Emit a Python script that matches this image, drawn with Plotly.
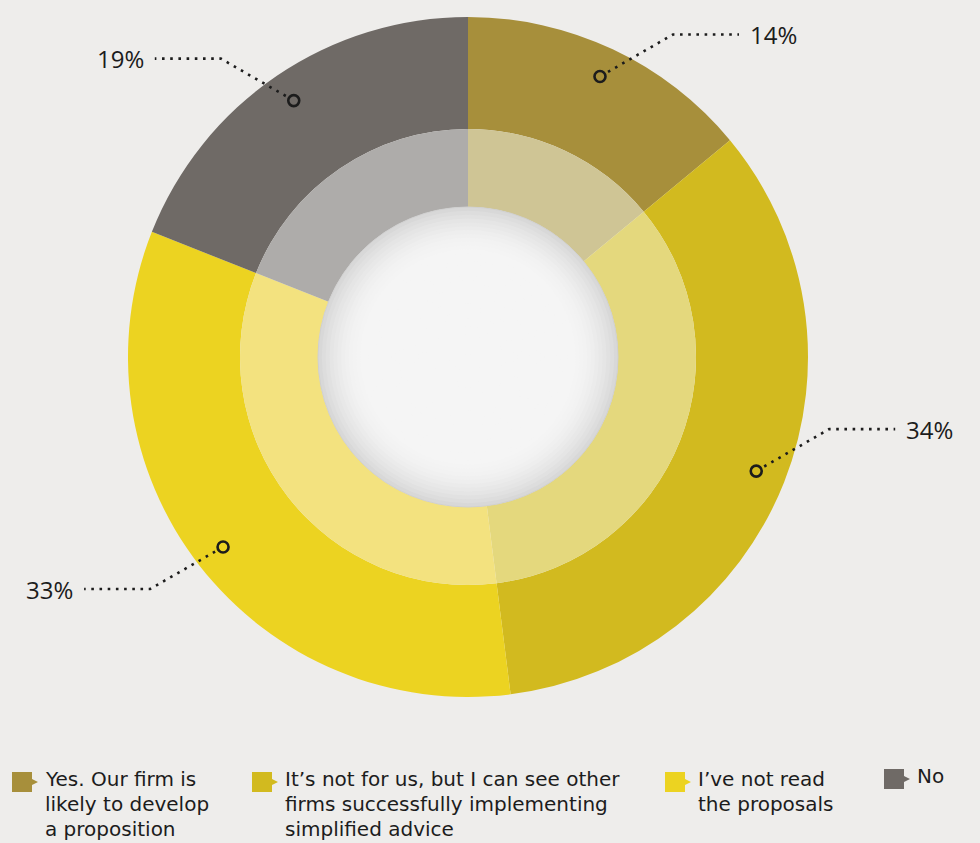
import numpy as np
import plotly.graph_objects as go

# ---- data -------------------------------------------------------------
categories = [
    "Yes. Our firm is likely to develop a proposition",
    "It’s not for us, but I can see other firms successfully implementing simplified advice",
    "I’ve not read the proposals",
    "No",
]
legend_lines = [
    ["Yes. Our firm is", "likely to develop", "a proposition"],
    ["It’s not for us, but I can see other", "firms successfully implementing", "simplified advice"],
    ["I’ve not read", "the proposals"],
    ["No"],
]
shares = [14, 34, 33, 19]
pct_labels = [f"{v}%" for v in shares]

# ---- styling ----------------------------------------------------------
outer_colors = ["#a78f3b", "#d2ba1f", "#ecd321", "#6f6a66"]
inner_colors = ["#cfc595", "#e4d87d", "#f3e27f", "#aeacaa"]
bg = "#eeedeb"
ink = "#1c1c1c"
label_font = "Open Sans, Lato, sans-serif"
legend_font = "DejaVu Sans, Open Sans, sans-serif"

W, H = 980, 843
CX, CY = 468, 357            # pie centre (px)
R_OUT, R_MID, R_CORE = 340, 228, 150
R_PIN = 310                  # radius of the leader pins
leader_vdir = [-1, -1, 1, -1]   # leader elbow goes up (-1) or down (+1)
legend_x = [12, 252, 665, 884]
legend_top = 772
legend_first_line = 779
legend_line_gap = 25


def domain(r):
    return dict(x=[(CX - r) / W, (CX + r) / W],
                y=[(H - CY - r) / H, (H - CY + r) / H])


fig = go.Figure()

# outer ring
fig.add_trace(go.Pie(
    values=shares, labels=categories, sort=False, direction="clockwise",
    rotation=0, hole=R_MID / R_OUT, domain=domain(R_OUT),
    marker=dict(colors=outer_colors, line=dict(width=0)),
    textinfo="none", hoverinfo="skip", showlegend=False,
))
# inner lighter ring
fig.add_trace(go.Pie(
    values=shares, labels=categories, sort=False, direction="clockwise",
    rotation=0, hole=R_CORE / R_MID, domain=domain(R_MID),
    marker=dict(colors=inner_colors, line=dict(width=0)),
    textinfo="none", hoverinfo="skip", showlegend=False,
))

shapes = []
# soft shaded centre disc built from concentric circles
n = 40
for i in range(n):
    t = i / (n - 1)                      # 0 at rim, 1 at centre
    r = R_CORE * (1 - t)
    if r <= 0.5:
        break
    k = min(1.0, t / 0.3)
    c = int(round(216 + (245 - 216) * (1 - (1 - k) ** 2)))
    col = f"rgb({c},{c},{c})"
    shapes.append(dict(type="circle", xref="x", yref="y", layer="above",
                       x0=CX - r, x1=CX + r, y0=CY - r, y1=CY + r,
                       fillcolor=col, line=dict(width=0)))
shapes.append(dict(type="circle", xref="x", yref="y", layer="above",
                   x0=CX - R_CORE, x1=CX + R_CORE, y0=CY - R_CORE, y1=CY + R_CORE,
                   fillcolor="rgba(0,0,0,0)", line=dict(color="#d0d0d0", width=1)))

annotations = []
# leader lines and value labels, positioned from the slice mid-angles
cum = np.cumsum([0] + shares)
total = cum[-1]
for i, v in enumerate(shares):
    mid = (cum[i] + cum[i + 1]) / 2 / total * 2 * np.pi
    hs = 1 if np.sin(mid) >= 0 else -1
    vs = leader_vdir[i]
    px = CX + R_PIN * np.sin(mid)
    py = CY - R_PIN * np.cos(mid)
    ex, ey = px + hs * 73, py + vs * 42
    fx = ex + hs * 66
    sx, sy = px + hs * 8, py + vs * 4.6
    shapes.append(dict(type="path", xref="x", yref="y", layer="above",
                       path=f"M {sx:.1f},{sy:.1f} L {ex:.1f},{ey:.1f} L {fx:.1f},{ey:.1f}",
                       line=dict(color=ink, width=2.6, dash="2.6px,5.6px")))
    shapes.append(dict(type="circle", xref="x", yref="y", layer="above",
                       x0=px - 5.5, x1=px + 5.5, y0=py - 5.5, y1=py + 5.5,
                       fillcolor="rgba(0,0,0,0)", line=dict(color=ink, width=2.6)))
    annotations.append(dict(
        x=fx + hs * 9, y=ey, xref="x", yref="y", text=pct_labels[i],
        showarrow=False, xanchor="left" if hs > 0 else "right", yanchor="middle",
        font=dict(family=label_font, size=24, color=ink)))

# legend: flag-shaped swatches with wrapped captions (one annotation per line)
for i, lines in enumerate(legend_lines):
    x0 = legend_x[i]
    shift = 0 if len(lines) > 1 else -3
    y0 = legend_top + shift
    path = (f"M {x0},{y0} L {x0 + 20},{y0} L {x0 + 20},{y0 + 7} "
            f"L {x0 + 26},{y0 + 10} L {x0 + 20},{y0 + 13} L {x0 + 20},{y0 + 20} "
            f"L {x0},{y0 + 20} Z")
    shapes.append(dict(type="path", xref="x", yref="y", path=path,
                       fillcolor=outer_colors[i], line=dict(width=0), layer="above"))
    for j, line in enumerate(lines):
        annotations.append(dict(
            x=x0 + 31, y=legend_first_line + shift + j * legend_line_gap,
            xref="x", yref="y", text=line,
            showarrow=False, xanchor="left", yanchor="middle", align="left",
            font=dict(family=legend_font, size=20, color=ink)))

fig.update_layout(
    width=W, height=H, margin=dict(l=0, r=0, t=0, b=0),
    paper_bgcolor=bg, plot_bgcolor=bg,
    xaxis=dict(range=[0, W], visible=False, fixedrange=True),
    yaxis=dict(range=[H, 0], visible=False, fixedrange=True),
    shapes=shapes, annotations=annotations, showlegend=False,
)

fig.write_html("out.html")
